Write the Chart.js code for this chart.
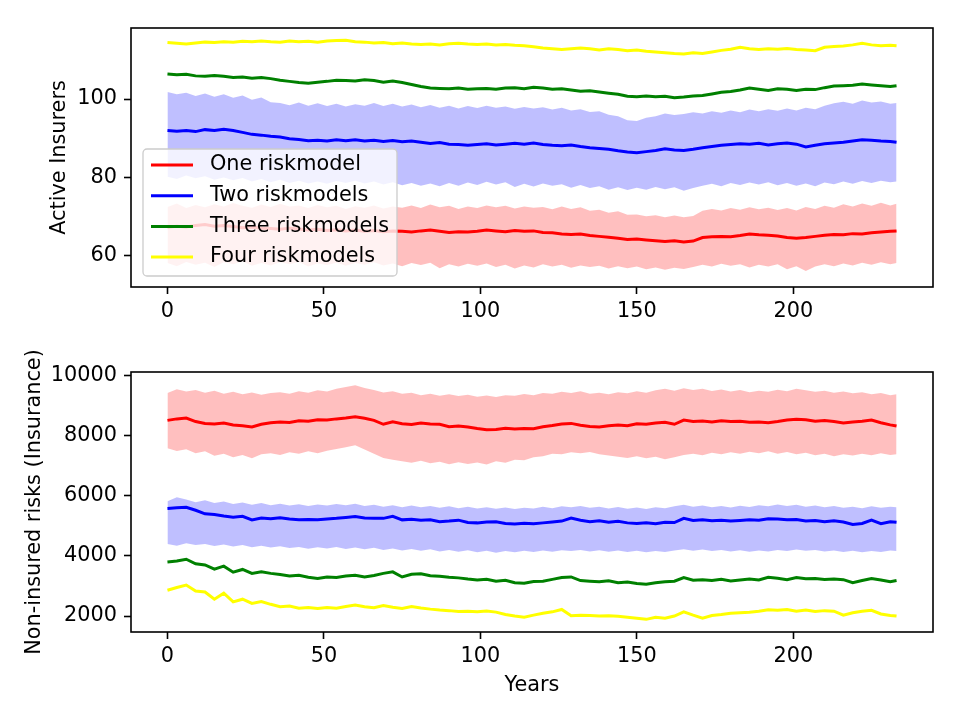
<!DOCTYPE html>
<html>
<head>
<meta charset="utf-8">
<script src="https://cdn.jsdelivr.net/npm/chart.js@4"></script>
<style>
  html, body { margin: 0; padding: 0; background: #fff; }
  #wrap { position: relative; width: 960px; height: 720px; }
  #topChart { position: absolute; left: 0; top: 0; }
  #bottomChart { position: absolute; left: 0; top: 340px; }
</style>
</head>
<body>
<div id="wrap">
  <canvas id="topChart" width="960" height="330"></canvas>
  <canvas id="bottomChart" width="960" height="380"></canvas>
</div>
<script>
const seriesNames = ["One riskmodel", "Two riskmodels", "Three riskmodels", "Four riskmodels"];
const xTicks = [0, 50, 100, 150, 200];
const topYTicks = [60, 80, 100];
const bottomYTicks = [2000, 4000, 6000, 8000, 10000];

const years = [0, 3, 6, 9, 12, 15, 18, 21, 24, 27, 30, 33, 36, 39, 42, 45, 48, 51, 54, 57,
  60, 63, 66, 69, 72, 75, 78, 81, 84, 87, 90, 93, 96, 99, 102, 105, 108, 111, 114, 117,
  120, 123, 126, 129, 132, 135, 138, 141, 144, 147, 150, 153, 156, 159, 162, 165, 168, 171, 174, 177,
  180, 183, 186, 189, 192, 195, 198, 201, 204, 207, 210, 213, 216, 219, 222, 225, 228, 231, 233];

// Active insurers (mean)
const insOne = [67.3, 67.6, 67.4, 67.8, 68.0, 67.6, 67.8, 67.5, 67.2, 67.4, 67.1, 67.0, 66.8, 67.1, 66.9, 66.6, 66.8, 66.5, 66.7, 66.4,
  66.6, 66.3, 66.5, 66.2, 66.4, 66.3, 66.1, 66.4, 66.6, 66.3, 66.0, 66.2, 66.1, 66.3, 66.6, 66.4, 66.2, 66.5, 66.3, 66.4,
  66.0, 65.9, 65.6, 65.5, 65.6, 65.2, 65.0, 64.8, 64.5, 64.2, 64.3, 64.1, 63.9, 63.7, 63.9, 63.6, 63.8, 64.7, 64.9, 65.0,
  64.9, 65.2, 65.6, 65.4, 65.3, 65.1, 64.7, 64.5, 64.7, 65.0, 65.3, 65.5, 65.4, 65.7, 65.6, 65.9, 66.1, 66.3, 66.4];
const insTwo = [92.0, 91.8, 92.0, 91.7, 92.2, 92.0, 92.3, 92.0, 91.5, 91.0, 90.8, 90.5, 90.3, 89.9, 89.7, 89.4, 89.5, 89.3, 89.6, 89.4,
  89.6, 89.3, 89.5, 89.2, 89.4, 89.1, 89.3, 89.0, 88.7, 88.9, 88.5, 88.4, 88.2, 88.4, 88.6, 88.3, 88.5, 88.7, 88.5, 88.8,
  88.4, 88.2, 88.1, 88.3, 87.9, 87.6, 87.4, 87.2, 86.8, 86.5, 86.3, 86.6, 86.9, 87.3, 87.0, 86.9, 87.2, 87.6, 87.9, 88.2,
  88.4, 88.6, 88.5, 88.7, 88.3, 88.6, 88.8, 88.5, 87.8, 88.2, 88.6, 88.8, 89.0, 89.3, 89.6, 89.5, 89.3, 89.2, 89.0];
const insThree = [106.4, 106.2, 106.3, 105.9, 105.8, 106.0, 105.8, 105.5, 105.6, 105.3, 105.5, 105.2, 104.8, 104.5, 104.2, 104.0, 104.3, 104.5, 104.8, 104.7,
  104.6, 104.9, 104.7, 104.3, 104.6, 104.2, 103.7, 103.2, 102.8, 102.7, 102.6, 102.8, 102.5, 102.6, 102.7, 102.5, 102.8, 102.9, 102.6, 103.0,
  102.8, 102.5, 102.6, 102.3, 102.0, 102.1, 101.8, 101.5, 101.2, 100.7, 100.6, 100.8, 100.6, 100.7, 100.3, 100.5, 100.8, 100.9, 101.3, 101.7,
  101.9, 102.3, 102.8, 102.5, 102.2, 102.6, 102.5, 102.2, 102.5, 102.4, 102.9, 103.3, 103.4, 103.5, 103.8, 103.6, 103.4, 103.2, 103.4];
const insFour = [114.4, 114.2, 114.0, 114.3, 114.5, 114.4, 114.6, 114.5, 114.7, 114.6, 114.8, 114.6, 114.5, 114.8, 114.6, 114.7, 114.5, 114.8, 114.9, 115.0,
  114.6, 114.5, 114.3, 114.4, 114.1, 114.3, 114.0, 113.9, 114.0, 113.8, 114.1, 114.2, 114.0, 113.9, 114.0, 113.8, 113.9, 113.7, 113.6, 113.3,
  113.0, 112.8, 112.6, 112.8, 113.0, 112.8, 112.5, 112.8, 112.6, 112.3, 112.5, 112.2, 112.0, 111.8, 111.6, 111.5, 111.8, 111.6, 112.0, 112.4,
  112.7, 113.2, 112.8, 112.6, 112.8, 112.7, 112.9, 112.6, 112.5, 112.3, 113.2, 113.4, 113.5, 113.8, 114.2, 113.8, 113.6, 113.7, 113.6];

// Active insurers (spread band)
const insOneHigh = [72.5, 73.4, 72.2, 73.0, 72.4, 73.2, 72.6, 73.5, 72.8, 72.3, 73.1, 72.5, 73.3, 72.6, 72.9, 72.2, 73.0, 72.4, 72.8, 72.0,
  72.7, 72.3, 72.9, 72.1, 72.6, 72.3, 72.9, 72.2, 73.1, 72.4, 72.8, 72.0, 72.6, 72.2, 72.9, 72.4, 72.8, 72.1, 72.6, 72.3,
  72.5, 71.9, 72.6, 72.0, 72.4, 71.5, 71.8, 71.0, 71.4, 70.5, 70.6, 70.1, 70.4, 69.9, 70.3, 69.9, 70.2, 71.5, 72.0, 71.6,
  72.2, 71.8, 72.4, 71.9, 72.3, 71.7, 72.2, 71.6, 72.5, 72.0, 72.8, 72.3, 73.2, 72.6, 73.4, 72.8, 73.6, 72.9, 73.3];
const insOneLow = [58.2, 57.4, 58.5, 57.8, 58.3, 57.2, 58.4, 57.9, 58.6, 57.5, 58.2, 57.6, 58.4, 57.9, 58.5, 57.3, 58.1, 57.7, 58.3, 57.5,
  58.2, 57.8, 58.4, 57.6, 58.1, 57.4, 58.2, 57.7, 58.3, 56.9, 57.9, 57.3, 58.0, 57.5, 58.1, 57.2, 57.8, 56.8, 57.6, 57.1,
  57.9, 57.3, 57.8, 57.0, 57.6, 57.2, 57.5, 56.8, 57.4, 56.9, 57.3, 56.6, 57.1, 56.5, 57.0, 56.7, 57.2, 57.8, 57.3, 58.0,
  57.5, 57.9, 57.1, 57.8, 57.3, 57.9, 56.6, 57.4, 56.2, 57.3, 57.9, 57.4, 58.1, 57.6, 58.3, 57.8, 58.4, 57.9, 58.2];
const insTwoHigh = [101.8, 101.2, 101.6, 100.8, 101.4, 100.6, 101.2, 100.3, 100.9, 99.8, 100.4, 99.2, 99.0, 98.4, 99.1, 98.3, 98.9, 98.2, 98.8, 98.1,
  98.7, 98.3, 99.0, 98.2, 98.8, 98.1, 98.6, 97.9, 98.5, 97.8, 98.3, 97.6, 98.2, 97.7, 98.3, 97.8, 98.1, 97.5, 98.0, 97.6,
  97.9, 97.3, 97.8, 97.1, 97.4, 96.7, 96.9, 96.0, 95.6, 94.6, 94.4, 95.2, 95.6, 96.3, 95.9, 96.2, 96.6, 96.3, 96.9, 96.5,
  97.1, 96.6, 97.3, 96.9, 97.4, 97.0, 97.6, 97.1, 97.8, 97.4, 98.3, 98.9, 99.3, 98.8, 99.6, 99.1, 99.4, 98.8, 99.0];
const insTwoLow = [80.2, 79.6, 80.5, 79.8, 80.3, 79.4, 80.0, 79.3, 79.9, 79.0, 79.6, 78.8, 79.4, 78.6, 79.2, 78.5, 79.0, 78.4, 79.1, 78.6,
  79.2, 78.5, 79.0, 78.2, 78.8, 78.0, 78.6, 77.9, 78.5, 77.8, 78.6, 77.9, 78.7, 78.1, 78.9, 78.2, 78.8, 77.6, 78.4, 77.7,
  78.5, 77.9, 78.3, 77.4, 78.1, 77.3, 77.8, 76.9, 77.5, 76.8, 77.4, 76.9, 77.6, 77.0, 77.5, 76.6, 77.3, 77.9, 78.4, 77.8,
  78.6, 78.1, 78.7, 78.2, 78.8, 78.0, 78.6, 77.9, 78.5, 77.8, 78.7, 78.3, 79.0, 78.4, 79.1, 78.6, 79.2, 78.8, 79.0];

// Non-insured risks (mean)
const riskOne = [8510, 8560, 8590, 8470, 8410, 8390, 8420, 8360, 8330, 8290, 8380, 8430, 8460, 8440, 8500, 8480, 8530, 8520, 8560, 8590,
  8630, 8580, 8510, 8380, 8460, 8400, 8370, 8420, 8390, 8380, 8300, 8320, 8290, 8240, 8200, 8210, 8250, 8220, 8240, 8230,
  8300, 8340, 8390, 8410, 8350, 8310, 8290, 8330, 8360, 8330, 8400, 8380, 8420, 8450, 8380, 8520, 8470, 8490, 8460, 8500,
  8470, 8480, 8450, 8460, 8430, 8470, 8520, 8550, 8530, 8480, 8510, 8470, 8420, 8460, 8480, 8520, 8430, 8360, 8320];
const riskTwo = [5580, 5600, 5620, 5520, 5400, 5380, 5330, 5290, 5320, 5200, 5260, 5240, 5270, 5230, 5200, 5210, 5200, 5230, 5250, 5280,
  5310, 5260, 5250, 5250, 5320, 5200, 5220, 5190, 5200, 5140, 5160, 5190, 5110, 5100, 5130, 5140, 5080, 5060, 5090, 5070,
  5100, 5130, 5160, 5260, 5190, 5140, 5170, 5120, 5150, 5100, 5080, 5100, 5070, 5120, 5110, 5250, 5180, 5200, 5170, 5190,
  5160, 5180, 5200, 5190, 5240, 5230, 5200, 5210, 5160, 5180, 5140, 5170, 5130, 5050, 5080, 5190, 5070, 5140, 5120];
const riskThree = [3800, 3830, 3890, 3740, 3700, 3560, 3660, 3460, 3550, 3420, 3470, 3420, 3380, 3330, 3360, 3290, 3250, 3300, 3280, 3330,
  3360, 3300, 3350, 3420, 3470, 3300, 3390, 3410, 3340, 3320, 3290, 3270, 3230, 3200, 3220, 3160, 3190, 3110, 3090, 3150,
  3160, 3220, 3280, 3300, 3180, 3160, 3140, 3170, 3110, 3130, 3080, 3060, 3110, 3140, 3160, 3280, 3190, 3210, 3180, 3220,
  3170, 3200, 3230, 3200, 3290, 3260, 3210, 3280, 3240, 3250, 3220, 3230, 3210, 3110, 3180, 3250, 3200, 3140, 3180];
const riskFour = [2860, 2950, 3030, 2830, 2800, 2560, 2760, 2470, 2560, 2420, 2480, 2390, 2310, 2330, 2260, 2280, 2250, 2280, 2260, 2320,
  2370, 2310, 2280, 2350, 2290, 2250, 2320, 2270, 2230, 2200, 2180, 2150, 2160, 2140, 2170, 2130, 2050, 2000, 1960, 2030,
  2090, 2140, 2220, 2010, 2030, 2020, 2000, 2010, 1990, 1960, 1930, 1890, 1960, 1930, 2000, 2140, 2030, 1930, 2020, 2050,
  2090, 2110, 2130, 2160, 2210, 2190, 2220, 2160, 2200, 2150, 2180, 2160, 2030, 2110, 2160, 2190, 2070, 2020, 2000];

// Non-insured risks (spread band)
const riskOneHigh = [9420, 9550, 9470, 9520, 9430, 9500, 9400, 9460, 9380, 9440, 9360, 9420, 9450, 9400, 9480, 9430, 9510, 9470, 9560, 9620,
  9680, 9590, 9520, 9440, 9480, 9400, 9430, 9350, 9400, 9330, 9380, 9320, 9360, 9300, 9340, 9290, 9350, 9330, 9390, 9350,
  9420, 9400, 9460, 9420, 9480, 9400, 9430, 9380, 9450, 9410, 9480, 9430, 9510, 9560, 9500, 9580, 9520, 9560, 9490, 9540,
  9470, 9520, 9450, 9500, 9460, 9530, 9480, 9560, 9510, 9460, 9500, 9430, 9470, 9410, 9450, 9380, 9420, 9350, 9380];
const riskOneLow = [7580, 7490, 7550, 7420, 7480, 7330, 7400, 7280, 7360, 7250, 7380, 7420, 7360, 7450, 7400, 7480, 7420, 7500, 7560, 7620,
  7680, 7540, 7400, 7260, 7200, 7150, 7100, 7170, 7080, 7130, 7050, 7120, 7060, 7110, 7040, 7150, 7100, 7200, 7180, 7280,
  7320, 7400, 7380, 7450, 7420, 7460, 7380, 7340, 7300, 7260, 7320, 7250, 7300, 7220, 7280, 7360, 7400, 7350, 7430, 7380,
  7450, 7400, 7470, 7420, 7480, 7400, 7460, 7380, 7430, 7350, 7400, 7320, 7380, 7340, 7400, 7350, 7420, 7360, 7380];
const riskTwoHigh = [5820, 5950, 5880, 5790, 5850, 5760, 5810, 5730, 5780, 5700, 5760, 5690, 5740, 5680, 5720, 5660, 5710, 5680, 5730, 5690,
  5740, 5660, 5700, 5640, 5690, 5620, 5680, 5620, 5660, 5600, 5650, 5590, 5640, 5580, 5620, 5570, 5610, 5560, 5600, 5580,
  5640, 5590, 5650, 5620, 5660, 5600, 5640, 5580, 5630, 5570, 5610, 5560, 5620, 5590, 5650, 5700, 5640, 5680, 5620, 5660,
  5610, 5670, 5630, 5690, 5650, 5710, 5660, 5700, 5640, 5680, 5620, 5660, 5600, 5640, 5590, 5650, 5600, 5640, 5620];
const riskTwoLow = [4400, 4340, 4420, 4360, 4400, 4330, 4380, 4310, 4360, 4290, 4340, 4280, 4320, 4260, 4300, 4240, 4290, 4250, 4300, 4230,
  4280, 4220, 4270, 4200, 4250, 4180, 4230, 4170, 4220, 4150, 4200, 4140, 4190, 4120, 4170, 4110, 4160, 4120, 4170, 4130,
  4180, 4140, 4190, 4160, 4200, 4150, 4190, 4140, 4180, 4130, 4170, 4120, 4160, 4130, 4180, 4220, 4170, 4210, 4160, 4200,
  4150, 4190, 4140, 4180, 4150, 4200, 4160, 4210, 4170, 4200, 4150, 4180, 4130, 4170, 4120, 4160, 4130, 4180, 4160];

const lineColors = ["#ff0000", "#0000ff", "#008000", "#ffff00"];
const bandColors = ["rgba(255,0,0,0.25)", "rgba(0,0,255,0.25)"];

Chart.defaults.font.family = "'DejaVu Sans', sans-serif";
Chart.defaults.font.size = 20.8;
Chart.defaults.color = "#000";

function pts(ys) {
  return ys.map((y, i) => ({ x: years[i], y: y }));
}

function lineSet(label, ys, color) {
  return {
    label: label, data: pts(ys), borderColor: color, borderWidth: 3,
    pointRadius: 0, tension: 0, fill: false, order: 0
  };
}

function bandSet(ys, color, fillTo) {
  return {
    label: "", data: pts(ys), borderColor: "rgba(0,0,0,0)", borderWidth: 0,
    backgroundColor: color, pointRadius: 0, tension: 0, fill: fillTo, order: 1
  };
}

// black box round the plot area, like the axes frame
const frame = {
  id: "frame",
  afterDraw(chart) {
    const a = chart.chartArea, ctx = chart.ctx;
    ctx.save();
    ctx.strokeStyle = "#000";
    ctx.lineWidth = 1.6;
    ctx.strokeRect(a.left, a.top, a.right - a.left, a.bottom - a.top);
    ctx.restore();
  }
};

// legend box drawn inside the top plot
const legendBox = {
  id: "legendBox",
  afterDraw(chart) {
    const ctx = chart.ctx;
    const x = 143, y = 149, w = 254, h = 127, r = 4;
    ctx.save();
    ctx.beginPath();
    ctx.moveTo(x + r, y);
    ctx.arcTo(x + w, y, x + w, y + h, r);
    ctx.arcTo(x + w, y + h, x, y + h, r);
    ctx.arcTo(x, y + h, x, y, r);
    ctx.arcTo(x, y, x + w, y, r);
    ctx.closePath();
    ctx.fillStyle = "rgba(255,255,255,0.8)";
    ctx.fill();
    ctx.strokeStyle = "#cccccc";
    ctx.lineWidth = 1.3;
    ctx.stroke();
    ctx.font = "20.8px 'DejaVu Sans'";
    ctx.textBaseline = "middle";
    seriesNames.forEach((name, i) => {
      const cy = 165 + i * 30.7;
      ctx.strokeStyle = lineColors[i];
      ctx.lineWidth = 3;
      ctx.beginPath();
      ctx.moveTo(151, cy);
      ctx.lineTo(193, cy);
      ctx.stroke();
      ctx.fillStyle = "#000";
      ctx.fillText(name, 210, cy);
    });
    ctx.restore();
  }
};

function axisX(height, titleText) {
  return {
    type: "linear", min: -11.65, max: 244.65,
    afterBuildTicks: (s) => { s.ticks = xTicks.map((v) => ({ value: v })); },
    afterFit: (s) => { s.height = height; },
    grid: { drawOnChartArea: false, drawTicks: true, tickLength: 7, tickColor: "#000", tickWidth: 1.6 },
    border: { display: false },
    ticks: { padding: 5, maxRotation: 0, color: "#000", callback: (v) => String(v) },
    title: titleText
      ? { display: true, text: titleText, color: "#000", padding: { top: 0, bottom: 22 } }
      : { display: false }
  };
}

function axisY(min, max, tickVals, titleText, titlePad) {
  return {
    type: "linear", min: min, max: max,
    afterBuildTicks: (s) => { s.ticks = tickVals.map((v) => ({ value: v })); },
    afterFit: (s) => { s.width = 131; },
    grid: { drawOnChartArea: false, drawTicks: true, tickLength: 7, tickColor: "#000", tickWidth: 1.6 },
    border: { display: false },
    ticks: { padding: 7, color: "#000", callback: (v) => String(v) },
    title: { display: true, text: titleText, color: "#000", padding: { top: titlePad, bottom: 0 } }
  };
}

const baseOptions = {
  responsive: false,
  animation: false,
  events: [],
  plugins: { legend: { display: false }, tooltip: { enabled: false } }
};

new Chart(document.getElementById("topChart").getContext("2d"), {
  type: "line",
  data: {
    datasets: [
      lineSet(seriesNames[0], insOne, lineColors[0]),
      lineSet(seriesNames[1], insTwo, lineColors[1]),
      lineSet(seriesNames[2], insThree, lineColors[2]),
      lineSet(seriesNames[3], insFour, lineColors[3]),
      bandSet(insOneHigh, bandColors[0], "+1"),
      bandSet(insOneLow, bandColors[0], false),
      bandSet(insTwoHigh, bandColors[1], "+1"),
      bandSet(insTwoLow, bandColors[1], false)
    ]
  },
  options: Object.assign({}, baseOptions, {
    layout: { padding: { left: 0, right: 27, top: 28, bottom: 0 } },
    scales: {
      x: axisX(43, null),
      y: axisY(52.1, 118.1, topYTicks, "Active Insurers", 47)
    }
  }),
  plugins: [frame, legendBox]
});

new Chart(document.getElementById("bottomChart").getContext("2d"), {
  type: "line",
  data: {
    datasets: [
      lineSet(seriesNames[0], riskOne, lineColors[0]),
      lineSet(seriesNames[1], riskTwo, lineColors[1]),
      lineSet(seriesNames[2], riskThree, lineColors[2]),
      lineSet(seriesNames[3], riskFour, lineColors[3]),
      bandSet(riskOneHigh, bandColors[0], "+1"),
      bandSet(riskOneLow, bandColors[0], false),
      bandSet(riskTwoHigh, bandColors[1], "+1"),
      bandSet(riskTwoLow, bandColors[1], false)
    ]
  },
  options: Object.assign({}, baseOptions, {
    layout: { padding: { left: 0, right: 27, top: 32, bottom: 0 } },
    scales: {
      x: axisX(88, "Years"),
      y: axisY(1469, 10120, bottomYTicks, "Non-insured risks (Insurance)", 22)
    }
  }),
  plugins: [frame]
});
</script>
</body>
</html>
